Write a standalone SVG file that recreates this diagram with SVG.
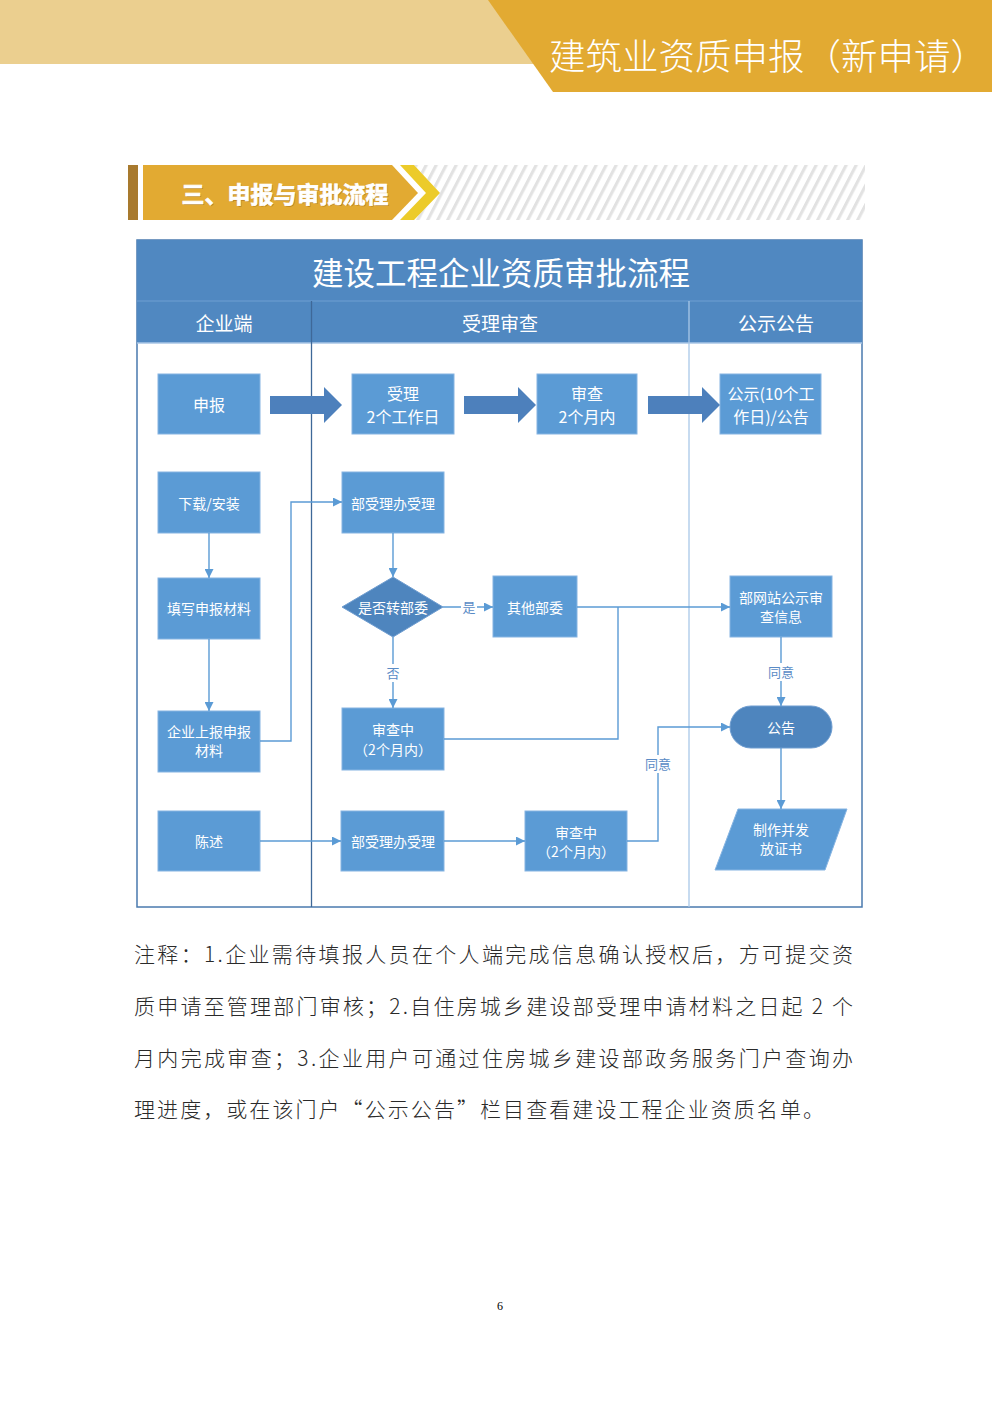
<svg xmlns="http://www.w3.org/2000/svg" width="992" height="1403" viewBox="0 0 992 1403">
<style>
.cjk{font-family:"Noto Sans CJK SC","Noto Sans",sans-serif}
.box{fill:#5B9BD5;stroke:#86B4E2;stroke-width:1}
.dark{fill:#4E85BE;stroke:#6F9DD0;stroke-width:1}
.bt{font-family:"Noto Sans CJK SC","Noto Sans",sans-serif;fill:#FFFFFF;text-anchor:middle;dominant-baseline:central}
.b16{font-size:16px}
.b14{font-size:14px}
.conn{fill:none;stroke:#5B9BD5;stroke-width:1.4}
.lbl{font-family:"Noto Sans CJK SC","Noto Sans",sans-serif;font-size:13px;fill:#5A8BC6;text-anchor:middle;dominant-baseline:central}
.hdr{font-family:"Noto Sans CJK SC","Noto Sans",sans-serif;fill:#FFFFFF;text-anchor:middle;dominant-baseline:central}
.big{fill:#4D80BC}
.note{font-family:"Noto Sans CJK SC","Noto Sans",sans-serif;font-size:21px;font-weight:300;fill:#2A2A2A}
</style>
<defs>
<marker id="arr" viewBox="0 0 10 10" refX="10" refY="5" markerWidth="10" markerHeight="9" markerUnits="userSpaceOnUse" orient="auto">
<path d="M0,0 L10,5 L0,10 Z" fill="#5B9BD5"/>
</marker>
<pattern id="hatch" x="0" y="165" width="10" height="56" patternUnits="userSpaceOnUse" patternTransform="skewX(-27.4)">
<rect x="0" y="0" width="3.5" height="56" fill="#E2E2E2"/>
</pattern>
</defs>

<g id="page-header">
<rect x="0" y="0" width="540" height="64" fill="#EBCF8F"/>
<polygon points="488,0 992,0 992,92 553,92" fill="#E2AA32"/>
<text x="549" y="54" class="cjk" font-size="36" font-weight="300" fill="#FFFFFF" dominant-baseline="central" textLength="438" lengthAdjust="spacingAndGlyphs">建筑业资质申报（新申请）</text>
</g>

<g id="section-banner">
<rect x="128" y="165" width="10" height="55" fill="#A87A2E"/>
<polygon points="143,165 392,165 418,193 392,220 143,220" fill="#E2AA32"/>
<polygon points="414,165 865,165 865,220 414,220 440,193" fill="url(#hatch)"/>
<polygon points="400,165 414,165 440,193 414,220 400,220 426,193" fill="#ECCB2A"/>
<text x="286" y="194" class="cjk" font-size="23" font-weight="bold" fill="#B98220" text-anchor="middle" dominant-baseline="central">三、申报与审批流程</text>
<text x="285" y="193" class="cjk" font-size="23" font-weight="bold" fill="#FFFFFF" stroke="#FFFFFF" stroke-width="0.7" text-anchor="middle" dominant-baseline="central">三、申报与审批流程</text>
</g>

<g id="flow-frame">
<rect x="137" y="240" width="725" height="667" fill="#FFFFFF" stroke="#4A7AAE" stroke-width="1.5"/>
<rect x="137" y="240" width="725" height="61" fill="#5088C1"/>
<rect x="137" y="301" width="725" height="42" fill="#5088C1"/>
<line x1="137" y1="301" x2="862" y2="301" stroke="#6E9FD2" stroke-width="1"/>
<line x1="137" y1="343" x2="862" y2="343" stroke="#A9C6E6" stroke-width="1.5"/>
<line x1="311.5" y1="301" x2="311.5" y2="907" stroke="#3E6898" stroke-width="1.3"/>
<line x1="689" y1="301" x2="689" y2="907" stroke="#A9C8E8" stroke-width="1.3"/>
<text x="501" y="271" class="hdr" font-size="31.5">建设工程企业资质审批流程</text>
<text x="224" y="322" class="hdr" font-size="19">企业端</text>
<text x="500" y="322" class="hdr" font-size="19">受理审查</text>
<text x="776" y="322" class="hdr" font-size="19">公示公告</text>
</g>

<g id="node-shenbao"><rect class="box" x="158" y="374" width="102" height="60"/><text class="bt b16" x="209" y="404">申报</text></g>
<g id="node-shouli"><rect class="box" x="352" y="374" width="102" height="60"/><text class="bt b16" x="403" y="393">受理</text><text class="bt b16" x="403" y="416">2个工作日</text></g>
<g id="node-shencha"><rect class="box" x="537" y="374" width="100" height="60"/><text class="bt b16" x="587" y="393">审查</text><text class="bt b16" x="587" y="416">2个月内</text></g>
<g id="node-gongshi"><rect class="box" x="720" y="374" width="101" height="60"/><text class="bt b16" x="771" y="393">公示(10个工</text><text class="bt b16" x="771" y="416">作日)/公告</text></g>

<g id="node-xiazai"><rect class="box" x="158" y="472" width="102" height="61"/><text class="bt b14" x="209" y="503">下载/安装</text></g>
<g id="node-tianxie"><rect class="box" x="158" y="578" width="102" height="61"/><text class="bt b14" x="209" y="608">填写申报材料</text></g>
<g id="node-shangbao"><rect class="box" x="158" y="711" width="102" height="61"/><text class="bt b14" x="209" y="731">企业上报申报</text><text class="bt b14" x="209" y="750">材料</text></g>
<g id="node-chenshu"><rect class="box" x="158" y="811" width="102" height="60"/><text class="bt b14" x="209" y="841">陈述</text></g>

<g id="node-bushouli1"><rect class="box" x="342" y="472" width="102" height="61"/><text class="bt b14" x="393" y="503">部受理办受理</text></g>
<g id="node-decision"><polygon class="dark" points="393,577 443,607 393,637 342,607"/><text class="bt b14" x="393" y="607">是否转部委</text></g>
<g id="node-qita"><rect class="box" x="493" y="576" width="84" height="61"/><text class="bt b14" x="535" y="607">其他部委</text></g>
<g id="node-shenchazhong1"><rect class="box" x="342" y="708" width="102" height="62"/><text class="bt b14" x="393" y="729">审查中</text><text class="bt b14" x="393" y="749">（2个月内）</text></g>
<g id="node-bushouli2"><rect class="box" x="341" y="811" width="103" height="60"/><text class="bt b14" x="393" y="841">部受理办受理</text></g>
<g id="node-shenchazhong2"><rect class="box" x="525" y="811" width="102" height="60"/><text class="bt b14" x="576" y="832">审查中</text><text class="bt b14" x="576" y="851">（2个月内）</text></g>

<g id="node-buwangzhan"><rect class="box" x="730" y="576" width="102" height="61"/><text class="bt b14" x="781" y="597">部网站公示审</text><text class="bt b14" x="781" y="616">查信息</text></g>
<g id="node-gonggao"><rect class="dark" x="730" y="706" width="102" height="42" rx="21" ry="21"/><text class="bt b14" x="781" y="727">公告</text></g>
<g id="node-zhizuo"><polygon class="box" points="738,809 847,809 825,870 715,870"/><text class="bt b14" x="781" y="829">制作并发</text><text class="bt b14" x="781" y="848">放证书</text></g>

<g id="connectors">
<polygon class="big" points="270,396 324,396 324,387 342,405 324,423 324,414 270,414"/>
<polygon class="big" points="464,396 518,396 518,387 536,405 518,423 518,414 464,414"/>
<polygon class="big" points="648,396 702,396 702,387 720,405 702,423 702,414 648,414"/>
<line class="conn" x1="209" y1="533" x2="209" y2="578" marker-end="url(#arr)"/>
<line class="conn" x1="209" y1="639" x2="209" y2="711" marker-end="url(#arr)"/>
<polyline class="conn" points="260,741 291,741 291,502 342,502" marker-end="url(#arr)"/>
<line class="conn" x1="393" y1="533" x2="393" y2="577" marker-end="url(#arr)"/>
<line class="conn" x1="443" y1="607" x2="493" y2="607" marker-end="url(#arr)"/>
<line class="conn" x1="393" y1="637" x2="393" y2="708" marker-end="url(#arr)"/>
<line class="conn" x1="577" y1="607" x2="730" y2="607" marker-end="url(#arr)"/>
<polyline class="conn" points="444,739 618,739 618,607"/>
<line class="conn" x1="781" y1="637" x2="781" y2="706" marker-end="url(#arr)"/>
<line class="conn" x1="781" y1="748" x2="781" y2="809" marker-end="url(#arr)"/>
<line class="conn" x1="260" y1="841" x2="341" y2="841" marker-end="url(#arr)"/>
<line class="conn" x1="444" y1="841" x2="525" y2="841" marker-end="url(#arr)"/>
<polyline class="conn" points="627,841 658,841 658,727 730,727" marker-end="url(#arr)"/>
<rect x="461" y="598" width="16" height="18" fill="#FFFFFF"/>
<text class="lbl" x="469" y="606">是</text>
<rect x="385" y="664" width="16" height="18" fill="#FFFFFF"/>
<text class="lbl" x="393" y="672">否</text>
<rect x="766" y="663" width="30" height="18" fill="#FFFFFF"/>
<text class="lbl" x="781" y="671">同意</text>
<rect x="643" y="755" width="30" height="18" fill="#FFFFFF"/>
<text class="lbl" x="658" y="763">同意</text>
</g>

<g id="notes">
<text class="note" x="134" y="962" textLength="719" lengthAdjust="spacing">注释：1.企业需待填报人员在个人端完成信息确认授权后，方可提交资</text>
<text class="note" x="134" y="1014" textLength="719" lengthAdjust="spacing">质申请至管理部门审核；2.自住房城乡建设部受理申请材料之日起 2 个</text>
<text class="note" x="134" y="1066" textLength="719" lengthAdjust="spacing">月内完成审查；3.企业用户可通过住房城乡建设部政务服务门户查询办</text>
<text class="note" x="134" y="1117" textLength="690" lengthAdjust="spacing">理进度，或在该门户“公示公告”栏目查看建设工程企业资质名单。</text>
</g>

<text x="500" y="1310" font-family="Liberation Serif, serif" font-size="12" fill="#000000" text-anchor="middle">6</text>
</svg>
